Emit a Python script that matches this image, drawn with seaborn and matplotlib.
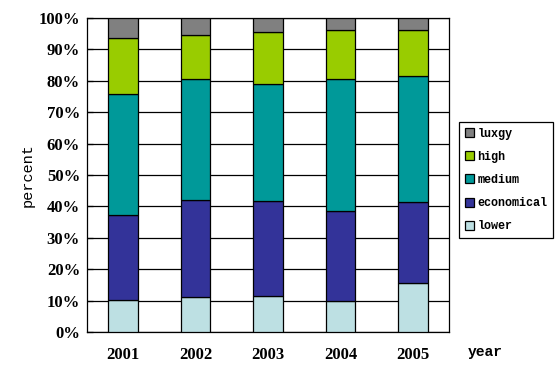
import numpy as np
import pandas as pd
import seaborn as sns
import matplotlib.pyplot as plt
from matplotlib.ticker import PercentFormatter

years = ["2001", "2002", "2003", "2004", "2005"]
lower = [10.2, 11.0, 11.4, 9.8, 15.5]
economical = [27.1, 30.9, 30.2, 28.7, 25.9]
medium = [38.4, 38.6, 37.3, 42.0, 40.0]
high = [18.0, 14.0, 16.5, 15.6, 14.7]
luxgy = [6.3, 5.5, 4.6, 3.9, 3.9]

series = [("lower", lower, "#BDE0E3"),
          ("economical", economical, "#333399"),
          ("medium", medium, "#009999"),
          ("high", high, "#99CC00"),
          ("luxgy", luxgy, "#808080")]

sns.set_style("white", {"text.color": "black", "axes.labelcolor": "black",
                        "xtick.color": "black", "ytick.color": "black"})
plt.rcParams['font.family'] = ['Liberation Serif', 'DejaVu Sans']

fig = plt.figure(figsize=(5.6, 3.85), dpi=100)
ax = fig.add_axes([87 / 560, 53 / 385, 362 / 560, 314 / 385])

# normalise to 100%
totals = np.sum([s[1] for s in series], axis=0)
bottom = np.zeros(len(years))
for name, vals, color in series:
    pct = np.array(vals) / totals * 100
    df = pd.DataFrame({"year": years, "pct": pct})
    sns.barplot(data=df, x="year", y="pct", color=color, saturation=1,
                bottom=bottom, width=0.41, edgecolor="black", linewidth=0.9,
                label=name, ax=ax, zorder=3)
    bottom = bottom + pct

ax.set_ylim(0, 100)
ax.set_xlim(-0.5, 4.5)
ax.set_yticks(np.arange(0, 101, 10))
ax.yaxis.set_major_formatter(PercentFormatter(decimals=0))
ax.grid(axis="y", color="black", linewidth=0.9, zorder=0)
ax.set_axisbelow(True)
for sp in ax.spines.values():
    sp.set_color("black")
    sp.set_linewidth(0.9)

ax.set_xticks(np.arange(0.5, 4.5, 1), minor=True)
ax.tick_params(axis="x", which="major", length=0, pad=11, labelsize=12)
ax.tick_params(axis="x", which="minor", direction="in", length=4, color="black", width=0.9)
ax.tick_params(axis="y", direction="in", length=4, color="black", width=0.9,
               labelsize=12, pad=5, left=True)
for lab in ax.get_xticklabels() + ax.get_yticklabels():
    lab.set_fontweight("bold")

ax.set_xlabel("")
ax.set_ylabel("percent", family="Liberation Mono", fontsize=11)
ax.yaxis.set_label_coords((35 - 87) / 362, 0.5)
fig.text(468 / 560, 1 - 352 / 385, "year", family="Liberation Mono",
         fontweight="bold", fontsize=10.5, va="center", ha="left")

handles, labels = ax.get_legend_handles_labels()
leg = fig.legend(handles[::-1], labels[::-1], loc="center left",
                 bbox_to_anchor=(459 / 560, 1 - 180 / 385), frameon=True,
                 fancybox=False, edgecolor="black", framealpha=1,
                 prop={"family": "Liberation Mono", "weight": "bold", "size": 8.5},
                 handlelength=0.8, handleheight=0.8, handletextpad=0.25,
                 labelspacing=0.95, borderpad=0.5, borderaxespad=0)
leg.get_frame().set_linewidth(0.9)
if ax.get_legend():
    ax.get_legend().remove()

fig.savefig("out.png", dpi=100)
